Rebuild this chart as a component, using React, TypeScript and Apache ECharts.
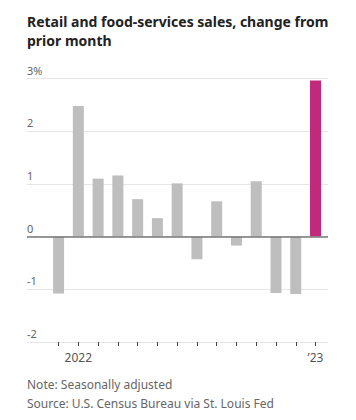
import React, { useEffect, useRef } from "react";
import * as echarts from "echarts";

const months = [
  "Dec 2021", "Jan 2022", "Feb 2022", "Mar 2022", "Apr 2022", "May 2022", "Jun 2022",
  "Jul 2022", "Aug 2022", "Sep 2022", "Oct 2022", "Nov 2022", "Dec 2022", "Jan 2023",
];
const changes = [-1.08, 2.48, 1.1, 1.16, 0.71, 0.35, 1.01, -0.43, 0.67, -0.17, 1.05, -1.07, -1.09, 2.96];
const tickLabels = ["", "2022", "", "", "", "", "", "", "", "", "", "", "", "\u201923"];
const yTicks = [-2, -1, 0, 1, 2, 3];
const titleText = "Retail and food-services sales, change from\nprior month";
const noteText = "Note: Seasonally adjusted";
const sourceText = "Source: U.S. Census Bureau via St. Louis Fed";

const FONT = "'Noto Sans', sans-serif";

export default function App() {
  const ref = useRef<HTMLDivElement>(null);
  useEffect(() => {
    document.body.style.margin = "0";
    const chart = echarts.init(ref.current!, null, { renderer: "svg" });
    const yMin = yTicks[0];
    const yMax = yTicks[yTicks.length - 1];
    chart.setOption({
      animation: false,
      textStyle: { fontFamily: FONT },
      grid: [
        { left: 27, right: 28, top: 78.5, height: 263.5 },
        { left: 48.7, width: 276.7, top: 78.5, height: 263.5 },
      ],
      xAxis: [
        { gridIndex: 0, type: "value", min: 0, max: 1, show: false },
        {
          gridIndex: 1,
          type: "category",
          data: months,
          axisLine: { show: true, onZero: false, lineStyle: { color: "#e6e6e6", width: 1 } },
          axisTick: { show: true, alignWithLabel: true, interval: 0, length: 4, lineStyle: { color: "#444", width: 1 } },
          axisLabel: {
            interval: 0,
            margin: 9,
            color: "#555",
            fontSize: 12,
            fontFamily: FONT,
            formatter: (_v: string, i: number) => tickLabels[i],
          },
          splitLine: { show: false },
        },
      ],
      yAxis: [
        {
          gridIndex: 0,
          type: "value",
          min: yMin,
          max: yMax,
          interval: 1,
          axisLine: { show: false },
          axisTick: { show: false },
          splitLine: { show: true, lineStyle: { color: "#e6e6e6", width: 1 } },
          axisLabel: {
            inside: true,
            margin: 0,
            verticalAlign: "bottom",
            padding: [0, 0, 3, 0],
            color: "#666",
            fontSize: 11,
            fontFamily: FONT,
            formatter: (v: number) => (v === yMax ? v + "%" : String(v)),
          },
        },
        { gridIndex: 1, type: "value", min: yMin, max: yMax, interval: 1, show: false, splitLine: { show: false } },
      ],
      series: [
        {
          type: "line",
          xAxisIndex: 0,
          yAxisIndex: 0,
          data: [],
          silent: true,
          markLine: {
            symbol: "none",
            silent: true,
            label: { show: false },
            lineStyle: { color: "#777", width: 1.5, type: "solid" },
            data: [{ yAxis: 0 }],
          },
        },
        {
          type: "bar",
          xAxisIndex: 1,
          yAxisIndex: 1,
          barWidth: 11,
          z: 1,
          data: changes.map((v, i) => ({
            value: v,
            itemStyle: { color: i === changes.length - 1 ? "#c12a7c" : "#bebebe" },
          })),
        },
      ],
      graphic: [
        {
          type: "text",
          left: 27,
          top: 12,
          style: {
            text: titleText,
            font: `bold 14px ${FONT}`,
            fill: "#222",
            lineHeight: 19,
          },
        },
        {
          type: "text",
          left: 27,
          top: 378,
          style: { text: noteText, font: `12px ${FONT}`, fill: "#666" },
        },
        {
          type: "text",
          left: 27,
          top: 397,
          style: { text: sourceText, font: `12px ${FONT}`, fill: "#666" },
        },
      ],
    });
    return () => chart.dispose();
  }, []);
  return <div ref={ref} style={{ width: 356, height: 420 }} />;
}
